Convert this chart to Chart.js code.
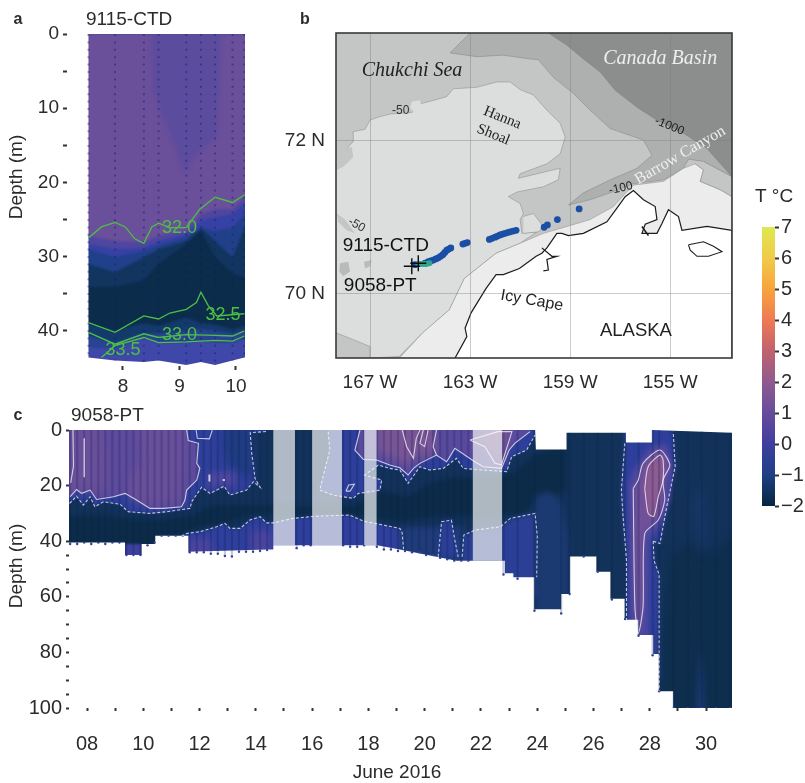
<!DOCTYPE html>
<html>
<head>
<meta charset="utf-8">
<title>9115-CTD and 9058-PT sections</title>
<script src="https://cdn.jsdelivr.net/npm/chart.js@4/dist/chart.umd.min.js"></script>
<style>
body { margin: 0; background: #fff; }
canvas { position: absolute; }
</style>
</head>
<body>
<canvas id="panelA" width="270" height="400" style="left:0;top:0"></canvas>
<canvas id="panelB" width="470" height="400" style="left:280px;top:0"></canvas>
<canvas id="panelC" width="745" height="383" style="left:0;top:400px"></canvas>
<canvas id="colourBar" width="55" height="340" style="left:750px;top:180px"></canvas>
<script>
// panel a: depth of each colour boundary at every CTD station
const aDays = [7.39, 7.86, 8.37, 8.63, 9.12, 9.38, 9.63, 9.94, 10.15];
const aBottom = [43.6, 44, 44.2, 44, 44.6, 44.2, 44.6, 44, 43.6];
const aBound9 = [42.2, 42.5, 40.9, 41.6, 41.6, 41.3, 41.6, 41.6, 41.1];
const aBound8 = [40.7, 41.6, 40.4, 40.4, 40, 39.8, 40, 40.4, 40];
const aBound7 = [39.1, 40, 38.9, 39.3, 38.2, 38.9, 39.1, 39.8, 39.3];
const aBound5 = [34.1, 34.1, 33.2, 31, 28.3, 26.5, 30.1, 32.3, 32.8];
const aBound4 = [31, 32.1, 30.1, 29, 27.9, 26.1, 27.9, 30.1, 26.1];
const aBound3 = [29, 30.1, 29.2, 28.5, 27.4, 26.1, 26.5, 26.1, 24.3];
const aBound2 = [28.3, 29, 28.8, 27.9, 27, 25.2, 24.7, 24.3, 22.9];
const aBound1 = [27.2, 27.9, 28.1, 27.2, 26.5, 24.3, 23.6, 23.6, 22];
const aLobe = [[8.51, -3], [8.54, 8.1], [8.83, 13.5], [9.1, 18.9], [9.24, 16.6], [9.66, 13.9], [9.75, -3]];
const aLeftMask = [[6.9, -3], [7.39, -3], [7.39, 50], [6.9, 50]];

// panel a: salinity contours
const sal320 = [[7.39, 27.5], [7.62, 26], [7.86, 25.4], [8.04, 26], [8.21, 27.6], [8.37, 28.2], [8.51, 26], [8.63, 25.5], [8.83, 26.1], [9.12, 26.1], [9.36, 23.6], [9.63, 22], [9.94, 22.7], [10.15, 21.7]];
const sal325 = [[7.39, 38.9], [7.86, 40.2], [8.37, 38], [8.63, 38.4], [8.83, 37.6], [9.12, 37.1], [9.3, 36.2], [9.38, 34.8], [9.51, 36.6], [9.66, 38], [10.15, 37.7]];
const sal330 = [[7.39, 40.2], [7.86, 41.8], [8.37, 40.4], [8.63, 40.9], [9.12, 40.5], [9.63, 40.6], [9.94, 40.7], [10.15, 40]];
const sal335 = [[7.62, 43.6], [7.86, 42], [8.37, 40.9], [8.63, 41.6], [9.12, 41.5], [9.63, 41.3], [9.94, 41.4], [10.15, 40.7]];

// panel b: map shapes, lon / lat
const lonTicks = [-167, -163, -159, -155];
const latTicks = [72, 70];
const mapBase = [[-168.36, 73.41], [-152.53, 73.41], [-152.53, 69.16], [-168.36, 69.16]];
const mapBand = [[-163, 73.41], [-163.8, 73.15], [-162.73, 73.1], [-161.67, 73.12], [-160.6, 73.07], [-160.27, 73.06], [-159.67, 72.83], [-158.87, 72.62], [-158.2, 72.4], [-157.4, 72.16], [-156.07, 72.01], [-155.73, 71.81], [-156.33, 71.64], [-157.4, 71.49], [-158.47, 71.32], [-159.07, 71.16], [-158.2, 71.23], [-157.4, 71.32], [-156.47, 71.44], [-155.27, 71.49], [-154.47, 71.64], [-154.27, 71.76], [-153.67, 71.73], [-153.27, 71.66], [-152.53, 71.53], [-152.53, 73.41]];
const mapBasin = [[-159.87, 73.41], [-159.13, 73.25], [-158.47, 73.07], [-157.8, 72.9], [-157.2, 72.66], [-156.33, 72.44], [-155.53, 72.27], [-154.47, 72.1], [-153.53, 71.9], [-152.53, 71.53], [-152.53, 73.41]];
const mapShoal = [[-168.36, 71.75], [-167.67, 71.99], [-167.67, 72.12], [-167.2, 72.15], [-167, 72.27], [-166.67, 72.31], [-166.2, 72.35], [-165.33, 72.37], [-164.93, 72.49], [-164.33, 72.54], [-163.93, 72.58], [-163.67, 72.68], [-162.73, 72.7], [-161.93, 72.77], [-161.4, 72.77], [-161, 72.67], [-160.47, 72.6], [-159.93, 72.4], [-159.4, 72.23], [-159.2, 72.05], [-159.4, 71.83], [-159.93, 71.7], [-161, 71.57], [-161.07, 71.51], [-159.93, 71.6], [-159.4, 71.64], [-159.47, 71.49], [-160.07, 71.4], [-161.13, 71.33], [-161.47, 71.27], [-161, 71.18], [-160.87, 71.05], [-161, 70.97], [-160.93, 70.79], [-160.33, 70.81], [-161, 70.66], [-161.96, 70.53], [-163.23, 70.2], [-163.83, 69.79], [-164.89, 69.49], [-165.83, 69.18], [-167, 69.16], [-167, 69.31], [-167.67, 69.4], [-168.36, 69.49]];
const mapCoastBand = [[-165.83, 69.16], [-164.89, 69.49], [-163.83, 69.79], [-163.23, 70.2], [-161.96, 70.53], [-161, 70.66], [-160.07, 70.79], [-159.13, 70.88], [-158.2, 70.97], [-157.27, 71.14], [-156.8, 71.31], [-156.47, 71.42], [-155.27, 71.47], [-154.47, 71.64], [-154, 71.7], [-153.67, 71.62], [-153.8, 71.47], [-153, 71.36], [-152.53, 71.27], [-152.53, 69.16]];
const mapEastPatch = [[-154, 71.7], [-153.67, 71.62], [-153.8, 71.47], [-153, 71.36], [-152.53, 71.27], [-152.53, 71.53], [-153.27, 71.66], [-153.67, 71.73]];
const mapIslet1 = [[-168.2, 70.4], [-167.87, 70.42], [-167.8, 70.29], [-168.07, 70.23], [-168.23, 70.29]];
const mapIslet2 = [[-167.24, 70.42], [-166.93, 70.44], [-167, 70.36], [-167.2, 70.33]];
const mapIslet3 = [[-168.33, 71.05], [-168, 70.97], [-167.6, 70.79], [-167.93, 70.83], [-168.27, 70.94]];
const mapIslet4 = [[-165.33, 72.51], [-165, 72.53], [-164.93, 72.42], [-165.27, 72.38], [-165.4, 72.44]];
const mapIslet5 = [[-160.87, 71.01], [-160.47, 71.05], [-160.07, 70.88], [-160.27, 70.81], [-160.87, 70.79]];
const mapIslet6 = [[-168.33, 71.88], [-167.73, 71.92], [-167.67, 71.79], [-168.07, 71.66], [-168.33, 71.62]];
const mapLand = [[-163.6, 69.16], [-163.13, 69.44], [-163.2, 69.55], [-162.96, 69.75], [-162.36, 70.07], [-161.96, 70.25], [-161.67, 70.25], [-161.03, 70.33], [-160.36, 70.49], [-160.13, 70.53], [-159.93, 70.6], [-159.53, 70.79], [-159.33, 70.79], [-159.07, 70.76], [-158.47, 70.79], [-157.53, 70.94], [-157.13, 71.12], [-156.8, 71.27], [-156.47, 71.35], [-156.07, 71.23], [-155.6, 71.14], [-155.53, 70.97], [-156, 70.91], [-156.13, 70.79], [-155.53, 70.79], [-155.33, 70.92], [-155.07, 71.1], [-154.67, 71.01], [-154.53, 70.83], [-153.53, 70.88], [-152.53, 70.83], [-152.53, 69.16]];
const mapInlet = [[-160.13, 70.6], [-159.73, 70.49], [-159.53, 70.49], [-159.93, 70.45], [-159.87, 70.31], [-160.07, 70.3]];
const mapLagoon = [[-156.13, 70.88], [-155.87, 70.76]];
const mapLake = [[-154.27, 70.64], [-153.67, 70.68], [-153.27, 70.62], [-152.93, 70.55], [-153.47, 70.49], [-153.93, 70.49], [-154.2, 70.57], [-154.27, 70.64]];
const trackBlue = [[-158.64, 71.11], [-159.51, 70.97], [-159.91, 70.9], [-160.04, 70.87], [-161.16, 70.83], [-161.28, 70.82], [-161.4, 70.81], [-161.5, 70.8], [-161.6, 70.79], [-161.7, 70.78], [-161.8, 70.77], [-161.9, 70.755], [-162, 70.74], [-162.12, 70.725], [-162.23, 70.71], [-163.11, 70.67], [-163.2, 70.66], [-163.29, 70.65], [-163.77, 70.6], [-163.85, 70.585], [-163.93, 70.57], [-164.01, 70.54], [-164.09, 70.51], [-164.18, 70.49], [-164.27, 70.47], [-164.37, 70.455], [-164.47, 70.44], [-164.57, 70.43], [-164.67, 70.42], [-164.8, 70.4], [-165.2, 70.38]];
const trackTeal = [[-165.07, 70.39], [-164.97, 70.39], [-164.87, 70.39], [-164.75, 70.39], [-164.63, 70.4]];
const stations = [[-165.07, 70.4], [-165.33, 70.36]];

// panel c: temperature areas, day of June / depth
const dayTicks = [8, 9, 10, 11, 12, 13, 14, 15, 16, 17, 18, 19, 20, 21, 22, 23, 24, 25, 26, 27, 28, 29, 30];
const depthTicks = [0, 5, 10, 15, 20, 25, 30, 35, 40, 45, 50, 55, 60, 65, 70, 75, 80, 85, 90, 95, 100];
const cTopEdge = [[7.2, 0], [23.92, 0], [23.95, 7], [25.04, 7], [25.04, 1], [27.15, 1], [27.15, 4.5], [28.08, 4.5], [28.08, 0], [30.92, 1]];
const cFloorEdge = [[30.92, 100], [28.83, 100], [28.83, 94], [28.33, 94], [28.33, 80.6], [28.12, 80.6], [28.12, 73.7], [27.59, 73.7], [27.59, 68.3], [27.11, 68.3], [27.11, 60.7], [26.6, 60.7], [26.6, 51], [26.1, 51], [26.1, 45.5], [25.16, 45.5], [25.16, 59], [24.85, 59], [24.85, 64.5], [23.89, 64.5], [23.89, 53], [23.15, 53], [23.15, 51.5], [22.85, 51.5], [22.85, 47], [21.13, 47], [19.12, 43], [18.3, 41.5], [14.62, 41.5], [14.62, 43], [14.44, 43], [11.6, 43.8], [11.6, 38], [10.42, 38], [10.42, 41], [9.94, 41], [9.94, 45], [9.35, 45], [9.35, 40.5], [7.2, 40.5]];
const cFloorMaskEnd = [[7.2, 110], [31.2, 110]];
const cTopMaskEnd = [[31.2, -4], [23.92, -4]];
const cBase = [[7.2, -4], [31.2, -4], [31.2, 110], [7.2, 110]];
const cRightDeep = [[28.7, 45], [29.4, 40], [30.2, 45], [31.2, 35], [31.2, 110], [28.45, 110], [28.45, 80], [28.6, 60]];
const cRightLobe1 = [[29.5, 25], [29.95, 20], [30, 40], [29.75, 45]];
const cRightLobe2 = [[29.62, 110], [29.8, 78], [30, 110]];
const cCore = [[7.2, 31], [8.5, 30.5], [9.5, 32], [10.5, 32.5], [11.7, 31], [12.5, 27], [13.5, 27], [14.6, 27], [15.4, 27.5], [17.4, 27.5], [18.5, 22], [19.4, 24], [20.2, 19], [21.2, 17], [22.1, 18], [23.2, 15], [23.92, 9], [25.04, 5], [25.04, 22], [24.2, 24], [23.5, 30], [22, 31], [20.5, 31], [19, 33], [17.5, 30.5], [15.5, 30.5], [14, 30], [13, 33], [12, 35], [11.4, 37.5], [10.6, 39], [10.42, 44], [9.35, 44], [7.2, 44]];
const cNotch = [[9.35, 41], [9.94, 41], [9.94, 50], [9.35, 50]];
const cDashLow = [[11.36, 38.2], [11.54, 37.2], [12.01, 36.6], [12.61, 34.8], [12.9, 33.6], [13.08, 35.4], [13.44, 35.4], [13.79, 32.4], [14.15, 31.2], [14.38, 33.4], [14.62, 33.4], [15.33, 31.8], [16.15, 31], [17.33, 30.6], [17.8, 32.7], [18.52, 34.2], [19.12, 35.4], [19.2, 37], [19.25, 42.9]];
const cLowFloor = [[19.25, 52], [11.36, 52]];
const cLowSpot1 = [[11.55, 39.5], [12.4, 38.5], [12.6, 52], [11.55, 52]];
const cLowSpot2 = [[13.8, 36], [14.55, 36], [14.55, 52], [13.8, 52]];
const cMidLow = [[19.12, 35], [21.4, 35], [21.4, 55], [19.12, 55]];
const cDome = [[20.48, 45.6], [20.6, 33], [20.95, 32.4], [21.07, 39.6], [21.19, 45.6]];
const cDashEast = [[21.33, 45.6], [21.39, 37.8], [21.8, 36], [22.7, 34.8], [23.04, 31.8], [23.92, 30], [24, 38], [23.98, 53]];
const cEastFloor = [[23.98, 60], [21.33, 60]];
const cEastLobe = [[23.92, 24], [24.4, 22], [24.85, 26], [25.1, 40], [25.1, 70], [23.98, 70]];
const cColumnDash = [[27.11, 4.8], [26.99, 21.6], [27.05, 31.2], [27.17, 46.8], [27.17, 68.3], [27.17, 90], [28.33, 90], [28.33, 52], [28.15, 47], [28.12, 40], [28.36, 40.8], [28.6, 27.6], [28.9, 13.2], [28.83, 0.6], [28.08, -4], [27.11, -4]];
const cColumnMid = [[27.23, 19.2], [27.29, 66], [27.53, 80], [27.94, 80], [28, 39.6], [28.36, 34.8], [28.71, 25.2], [28.83, 13.2], [28.59, 4.8], [28, 6], [27.41, 14.4]];
const cColumnSolid = [[27.41, 21], [27.47, 63.6], [27.59, 73.2], [27.76, 63.6], [27.82, 37.2], [28.3, 32.4], [28.53, 25.2], [28.47, 18], [28.71, 12.6], [28.36, 7.2], [27.76, 12], [27.59, 18], [27.41, 21]];
const cColumnCore = [[27.82, 21], [27.94, 30], [28.14, 31], [28.3, 24], [28.47, 18], [28.47, 10.8], [28.36, 9], [27.94, 13.2], [27.82, 21]];
const cDashWest = [[7.38, 26.4], [7.63, 23.8], [7.87, 27], [8.11, 24], [8.28, 27.6], [8.58, 25.8], [9.17, 26.7], [9.47, 29.4], [10.24, 30], [10.83, 29.4], [11.66, 28.2], [11.72, 25.8], [12.07, 20.6], [12.37, 22.8], [12.61, 21.6], [12.87, 20.2], [13.08, 23.4], [13.67, 21.6], [13.91, 18.6], [14.15, 20.6], [13.97, 17.4], [13.85, 8], [13.8, 1], [14.38, 0.5]];
const cDashWestClose = [[14.38, -4], [7.2, -4], [7.2, 26.4]];
const cWestDark = [[13, -4], [13.85, -4], [13.97, 17.4], [13.6, 17], [13, 12], [12.8, 6]];
const cWestSpot = [[12.3, 15], [13.3, 15], [13.3, 21], [12.87, 19.5], [12.3, 21]];
const cSolidWest = [[7.4, 24], [7.63, 21.4], [7.81, 22.8], [8.11, 21.6], [8.34, 25], [8.94, 24], [9.35, 22.8], [9.76, 25.2], [10.24, 28.2], [10.71, 28.2], [11.36, 27.6], [11.48, 25.2], [11.54, 21.6], [11.9, 18], [12.01, 13.8], [11.9, 12], [11.96, 4.8], [11.6, 3.8], [11.54, 0]];
const cSolidWestClose = [[11.54, -4], [7.2, -4], [7.2, 24]];
const cWestLobe1 = [[7.2, -4], [8.6, -4], [8.7, 20], [8.3, 22], [7.2, 22]];
const cWestLobe2 = [[9.7, -4], [11.5, -4], [11.36, 25], [10.2, 27], [9.5, 25], [9.5, 18], [9.9, 10]];
const cDashNorth = [[16.57, 0.6], [16.63, 7.2], [16.33, 19.2], [16.27, 21.6], [16.75, 23.4], [17.46, 24.6], [17.64, 22.8], [18.05, 22.2], [18.41, 21.6], [18.47, 18], [17.87, 16.2], [18.35, 12.6], [18.76, 13.8], [19.12, 14.4], [19.41, 19.2], [19.83, 13.2], [20.18, 14.4], [20.66, 13.8], [21.13, 10.2], [21.37, 13.8], [22.08, 14.4], [22.91, 15], [23.09, 9.6], [23.62, 7.2], [23.92, 1.8]];
const cDashNorthClose = [[23.92, -4], [16.57, -4]];
const cSolidNorth = [[17.7, 0], [17.52, 7.2], [17.82, 10.6], [18.29, 10.8], [18.76, 12.6], [19.12, 13.6], [19.41, 16.2], [19.6, 13.8], [19.83, 12], [20.42, 9], [20.78, 11.4], [21.07, 6.6], [21.78, 11.4], [22.08, 13.2], [22.73, 13.8], [23, 7.2], [23.2, 4.8], [23.74, 0.6]];
const cSolidNorthClose = [[23.74, -4], [17.7, -4]];
const cNorthLobe = [[18.3, -4], [18.3, 8], [19.1, 11], [19.4, 13], [19.7, 9], [20, 10], [20.4, 7], [20.3, -4]];
const cNorthLobe2 = [[21.61, 3.6], [22.6, -4], [23.1, -4], [22.73, 12.5], [22.5, 12], [22.14, 6]];
const cLine1 = [[7.5, 0], [7.52, 13], [7.42, 19]];
const cLine2 = [[7.9, 3], [7.9, 17]];
const cLine3 = [[19.2, 0], [19.36, 6], [19.6, 10.2], [19.7, 3], [19.83, 0]];
const cLine4 = [[19.95, 0], [19.83, 4.8], [20, 6], [20.12, 0]];
const cLine5 = [[20.42, 0], [20.3, 6], [20.42, 9]];
const cLoop1 = [[21.61, 3.6], [22.6, 0.6], [23.1, 0.6], [22.73, 12.5], [22.5, 12], [22.14, 6], [21.61, 3.6]];
const cLoop2 = [[11.88, 0], [11.92, 3], [12.35, 3.2], [12.45, 0]];
const cBlob1 = [[12.35, 16], [12.35, 18.5]];
const cBlob2 = [[12.82, 18], [12.9, 18]];
const cBlob3 = [[17.2, 22], [17.3, 19.8], [17.5, 19.5], [17.35, 22], [17.2, 22]];
const cDashColLeft = [[27.11, 4.8], [26.99, 21.6], [27.05, 31.2], [27.17, 46.8], [27.17, 68.3]];
const cDashColRight = [[28.12, 40], [28.36, 40.8], [28.6, 27.6], [28.9, 13.2], [28.83, 0.6]];
const cDashColLow = [[28.12, 40], [28.15, 47], [28.33, 52], [28.33, 94]];
const cBar1 = [[14.62, -4], [15.39, -4], [15.39, 41.5], [14.62, 41.5]];
const cBar2 = [[16, -4], [17.06, -4], [17.06, 41.5], [16, 41.5]];
const cBar3 = [[17.85, -4], [18.29, -4], [18.29, 41.5], [17.85, 41.5]];
const cBar4 = [[21.71, -4], [22.75, -4], [22.75, 47], [21.71, 47]];
const cProfileDays = [7.4, 7.65, 7.9, 8.15, 8.4, 8.65, 8.9, 9.15, 9.4, 9.65, 9.9, 10.15, 10.4, 10.65, 10.9, 11.15, 11.4, 11.65, 11.9, 12.15, 12.4, 12.65, 12.9, 13.15, 13.4, 13.65, 13.9, 14.15, 14.4, 15.45, 15.7, 15.95, 17.1, 17.35, 17.6, 17.85, 18.3, 18.55, 18.8, 19.05, 19.3, 19.55, 19.8, 20.05, 20.3, 20.55, 20.8, 21.05, 21.3, 21.55, 22.8, 23.3, 23.9, 24.85, 25.15, 25.65, 26.15, 26.65, 27.12, 27.6, 28.1, 28.33, 28.85, 29.35, 29.85, 30.35, 30.85];
const cProfileBottom = [41, 41, 40.5, 41, 40.5, 41, 40.5, 40.5, 45, 45, 45, 41.5, 40.5, 38, 38, 38, 38, 44, 44, 44, 44.5, 44.5, 45.3, 45.5, 43.8, 43.8, 43.8, 43.5, 43.2, 42.5, 41.5, 41.5, 41.5, 42, 42, 41.5, 42, 43, 43, 43.5, 43.5, 44, 44, 45, 45, 46, 46.5, 47, 47, 47, 52, 53.5, 65, 66, 59, 45.5, 51, 61, 68, 74, 81, 94, 100, 100, 100, 100, 100];
const cProfileTop = [0, 0, 0, 0, 0, 0, 0, 0, 0, 0, 0, 0, 0, 0, 0, 0, 0, 0, 0, 0, 0, 0, 0, 0, 0, 0, 0, 0, 0, 0, 0, 0, 0, 0, 0, 0, 0, 0, 0, 0, 0, 0, 0, 0, 0, 0, 0, 0, 0, 0, 0, 0, 0, 7, 1, 1, 1, 1, 4.5, 4.5, 0, 0, 0.5, 0.5, 0.5, 1, 1];

// colour bar
const barTicks = [-2, -1, 0, 1, 2, 3, 4, 5, 6, 7];
const barColours = ['#06263e', '#1e3f84', '#3f3f9e', '#664c9c', '#8f5a8f', '#c0626d', '#ee7a55', '#f9a33d', '#f0cb4a', '#dfe84f'];

const SANS = '"Liberation Sans", Arial, sans-serif';
const SERIF = '"Liberation Serif", "Times New Roman", serif';
const TEXT = '#2b2b2b';
const GREEN = '#4cc043';
const WHITE_LINE = 'rgba(255,255,255,.72)';

const xy = pts => pts.map(p => ({x: p[0], y: p[1]}));
const zip = (xs, ys) => xs.map((x, i) => [x, ys[i]]);

// list is in painting order, chart.js puts the first dataset on top so flip it
function toDatasets(list) {
    return list.map(s => ({
        data: xy(s.pts),
        soft: s.soft || 0,
        showLine: s.showLine !== false,
        tension: s.tension || 0,
        pointRadius: s.radius || 0,
        pointStyle: s.point || 'circle',
        pointBackgroundColor: s.pointColor,
        pointBorderColor: s.pointColor,
        pointBorderWidth: s.pointWidth || 0,
        borderColor: s.line || 'rgba(0,0,0,0)',
        borderWidth: s.width || 0,
        borderDash: s.dash || [],
        backgroundColor: s.color || 'rgba(0,0,0,0)',
        fill: s.fill || (s.color ? 'shape' : false),
        spanGaps: false
    })).reverse();
}

// plain text marks, in data units unless px is set
const notesPlugin = {
    id: 'notes',
    afterDraw(chart, args, opts) {
        const ctx = chart.ctx;
        if (opts.frame) {
            const a = chart.chartArea;
            ctx.save();
            ctx.strokeStyle = '#3a3a3a';
            ctx.lineWidth = 1.6;
            ctx.strokeRect(a.left, a.top, a.right - a.left, a.bottom - a.top);
            ctx.restore();
        }
        (opts.items || []).forEach(n => {
            const x = n.px ? n.x : chart.scales.x.getPixelForValue(n.x);
            const y = n.px ? n.y : chart.scales.y.getPixelForValue(n.y);
            ctx.save();
            ctx.translate(x, y);
            ctx.rotate((n.rot || 0) * Math.PI / 180);
            ctx.font = n.font;
            ctx.fillStyle = n.color || TEXT;
            ctx.textAlign = n.align || 'center';
            ctx.textBaseline = 'middle';
            ctx.fillText(n.t, 0, 0);
            ctx.restore();
        });
    }
};

// filler paints a dataset before this plugin's hook for it runs,
// so the blur for the next fill is set when the previous dataset ends
function softFilter(chart, index) {
    const ds = chart.data.datasets[index];
    return ds && ds.soft ? 'blur(' + ds.soft + 'px)' : 'none';
}
const softPlugin = {
    id: 'softEdges',
    beforeDatasetsDraw(chart) {
        chart.ctx.filter = softFilter(chart, chart.data.datasets.length - 1);
    },
    beforeDatasetDraw(chart) {
        chart.ctx.filter = 'none';
    },
    afterDatasetDraw(chart, args) {
        chart.ctx.filter = softFilter(chart, args.index - 1);
    },
    afterDatasetsDraw(chart) {
        chart.ctx.filter = 'none';
    }
};
Chart.register(notesPlugin, softPlugin);

function axisTicks(list) {
    return axis => { axis.ticks = list.map(v => ({value: v})); };
}

function fixedSize(key, size) {
    return axis => { axis[key] = size; };
}

function baseOptions(extra) {
    return Object.assign({
        responsive: false,
        animation: false,
        events: [],
        plugins: {legend: {display: false}, tooltip: {enabled: false}, notes: {}}
    }, extra);
}

function profileLines(days, tops, bottoms) {
    const pts = [];
    days.forEach((d, i) => {
        pts.push([d, tops[i]], [d, bottoms[i]], [d, null]);
    });
    return pts;
}

// ---- panel a
const aStripes = profileLines(aDays, aDays.map(() => 0), aBottom);
// bands run past both edges, the left mask and the axis limit cut them clean
function aBand(ys) {
    return [[7.2, ys[0]]].concat(zip(aDays, ys), [[10.4, ys[ys.length - 1]]]);
}
const aShapes = [
    {pts: aBand(aBottom), color: '#3f48a8', fill: 'end', soft: .5},
    {pts: aBand(aBound9), color: '#284392', fill: 'end', soft: .8},
    {pts: aBand(aBound8), color: '#143a6c', fill: 'end', soft: .8},
    {pts: aBand(aBound7), color: '#0b2c4b', fill: 'end', soft: .8},
    {pts: aBand(aBound5), color: '#12355f', fill: 'end', soft: .8},
    {pts: aBand(aBound4), color: '#21408a', fill: 'end', soft: .8},
    {pts: aBand(aBound3), color: '#3541a4', fill: 'end', soft: .8},
    {pts: aBand(aBound2), color: '#4f46a0', fill: 'end', soft: .8},
    {pts: aBand(aBound1), color: '#6a4f9b', fill: 'end', soft: .8},
    {pts: aLobe, color: '#5c4c9d', soft: 2},
    {pts: aLeftMask, color: '#ffffff'},
    {pts: aStripes, line: 'rgba(20,25,110,.42)', width: 2, dash: [2, 5.4]},
    {pts: sal320, line: GREEN, width: 1.3},
    {pts: sal325, line: GREEN, width: 1.3},
    {pts: sal330, line: GREEN, width: 1.3},
    {pts: sal335, line: GREEN, width: 1.3}
];

new Chart(document.getElementById('panelA'), {
    type: 'scatter',
    data: {datasets: toDatasets(aShapes)},
    options: baseOptions({
        layout: {padding: {top: 34, right: 25}},
        scales: {
            x: {
                min: 7.01, max: 10.16,
                afterBuildTicks: axisTicks([8, 9, 10]),
                afterFit: fixedSize('height', 34),
                border: {display: false},
                grid: {drawOnChartArea: false, tickLength: 4, tickWidth: 2, tickColor: '#333'},
                ticks: {autoSkip: false, maxRotation: 0, padding: 5, color: TEXT, font: {family: SANS, size: 19}}
            },
            y: {
                reverse: true, min: 0, max: 44.74,
                afterBuildTicks: axisTicks([0, 5, 10, 15, 20, 25, 30, 35, 40]),
                afterFit: fixedSize('width', 67),
                border: {display: false},
                grid: {drawOnChartArea: false, tickLength: 4, tickWidth: 2, tickColor: '#333'},
                ticks: {autoSkip: false, padding: 4, color: TEXT, font: {family: SANS, size: 19},
                    callback: v => v % 10 == 0 ? v : ''}
            }
        },
        plugins: {legend: {display: false}, tooltip: {enabled: false}, notes: {items: [
            {t: 'a', x: 18, y: 20, px: true, font: 'bold 16px ' + SANS},
            {t: '9115-CTD', x: 86, y: 20, px: true, align: 'left', font: '19px ' + SANS},
            {t: 'Depth (m)', x: 17, y: 177, px: true, rot: -90, font: '19px ' + SANS},
            {t: '32.0', x: 9.0, y: 26.2, color: GREEN, font: '18px ' + SANS},
            {t: '32.5', x: 9.77, y: 37.9, color: GREEN, font: '18px ' + SANS},
            {t: '33.0', x: 9.0, y: 40.6, color: GREEN, font: '18px ' + SANS},
            {t: '33.5', x: 8.0, y: 42.6, color: GREEN, font: '18px ' + SANS}
        ]}}
    })
});

// ---- panel b
const edge = 'rgba(120,120,120,.7)';
const mapShapes = [
    {pts: mapBase, color: '#c4c5c5'},
    {pts: mapBand, color: '#aeafaf', line: edge, width: .6},
    {pts: mapBasin, color: '#8c8d8d', line: edge, width: .6},
    {pts: mapShoal, color: '#dcdddd', line: edge, width: .6},
    {pts: mapCoastBand, color: '#ececec', line: edge, width: .6},
    {pts: mapEastPatch, color: '#c4c5c5', line: edge, width: .6},
    {pts: mapIslet1, color: '#b9baba'},
    {pts: mapIslet2, color: '#b9baba'},
    {pts: mapIslet3, color: '#c4c5c5'},
    {pts: mapIslet4, color: '#dcdddd'},
    {pts: mapIslet5, color: '#dcdddd', line: edge, width: .6},
    {pts: mapIslet6, color: '#c4c5c5'},
    {pts: mapLand, color: '#ffffff', line: '#1c1c1c', width: 1.2},
    {pts: mapInlet, line: '#1c1c1c', width: 1.2},
    {pts: mapLagoon, line: '#1c1c1c', width: 1.6},
    {pts: mapLake, line: '#1c1c1c', width: 1.1},
    {pts: trackBlue, radius: 3.4, pointColor: '#1a4fa5', showLine: false},
    {pts: trackTeal, radius: 3, pointColor: '#31a592', showLine: false},
    {pts: stations, radius: 8, point: 'cross', pointColor: '#0d0d0d', pointWidth: 1.4, showLine: false}
];

new Chart(document.getElementById('panelB'), {
    type: 'scatter',
    data: {datasets: toDatasets(mapShapes)},
    options: baseOptions({
        layout: {padding: {top: 33, right: 18}},
        scales: {
            x: {
                min: -168.36, max: -152.53,
                afterBuildTicks: axisTicks(lonTicks),
                afterFit: fixedSize('height', 42),
                border: {display: false},
                grid: {color: 'rgba(125,125,125,.4)', drawTicks: false, z: 1},
                ticks: {autoSkip: false, maxRotation: 0, padding: 13, color: TEXT, font: {family: SANS, size: 19},
                    callback: v => Math.abs(v) + ' W'}
            },
            y: {
                min: 69.16, max: 73.41,
                afterBuildTicks: axisTicks(latTicks),
                afterFit: fixedSize('width', 56),
                border: {display: false},
                grid: {color: 'rgba(125,125,125,.4)', drawTicks: false, z: 1},
                ticks: {autoSkip: false, padding: 11, color: TEXT, font: {family: SANS, size: 19},
                    callback: v => v + ' N'}
            }
        },
        plugins: {legend: {display: false}, tooltip: {enabled: false}, notes: {frame: true, items: [
            {t: 'b', x: 25, y: 20, px: true, font: 'bold 16px ' + SANS},
            {t: 'Chukchi Sea', x: -165.32, y: 72.91, font: 'italic 20px ' + SERIF, color: '#222'},
            {t: 'Canada Basin', x: -155.4, y: 73.07, font: 'italic 20px ' + SERIF, color: '#eeeeee'},
            {t: 'Hanna', x: -161.71, y: 72.3, rot: 22, font: '15px ' + SERIF, color: '#222'},
            {t: 'Shoal', x: -162.07, y: 72.08, rot: 22, font: '15px ' + SERIF, color: '#222'},
            {t: 'Barrow Canyon', x: -154.6, y: 71.81, rot: -30, font: '16px ' + SERIF, color: '#eeeeee'},
            {t: 'Icy Cape', x: -160.53, y: 69.91, rot: 10, font: '16px ' + SANS, color: '#222'},
            {t: 'ALASKA', x: -156.37, y: 69.52, font: '18.5px ' + SANS, color: '#222'},
            {t: '9115-CTD', x: -166.37, y: 70.63, font: '19px ' + SANS, color: '#111'},
            {t: '9058-PT', x: -166.59, y: 70.1, font: '19px ' + SANS, color: '#111'},
            {t: '-50', x: -165.77, y: 72.39, font: '12px ' + SANS, color: '#333'},
            {t: '-50', x: -167.53, y: 70.9, rot: 30, font: '12px ' + SANS, color: '#333'},
            {t: '-1000', x: -155.03, y: 72.19, rot: 22, font: '12px ' + SANS, color: '#222'},
            {t: '-100', x: -156.97, y: 71.38, rot: -12, font: '12px ' + SANS, color: '#222'}
        ]}}
    })
});

// ---- panel c
const BAR_WHITE = 'rgba(236,239,240,.72)';
const cShapes = [
    {pts: cBase, color: '#12325a'},
    {pts: cRightDeep, color: '#0e2e4d', soft: 5},
    {pts: cRightLobe1, color: '#173765', soft: 4},
    {pts: cRightLobe2, color: '#1d3c7b', soft: 3},
    {pts: cCore, color: '#0b2b48', soft: 2.5},
    {pts: cNotch, color: '#3f3fa0', soft: 1},
    {pts: cDashLow.concat(cLowFloor), color: '#2f3f9d', soft: 1.5},
    {pts: cLowSpot1, color: '#4a449f', soft: 3},
    {pts: cLowSpot2, color: '#4a449f', soft: 3},
    {pts: cMidLow, color: '#1f3b7a', soft: 2.5},
    {pts: cDome, color: '#2c3f98', soft: 2},
    {pts: cDashEast.concat(cEastFloor), color: '#2b3f96', soft: 2},
    {pts: cEastLobe, color: '#1c3a72', soft: 3},
    {pts: cColumnDash, color: '#2d3f9b', soft: 2},
    {pts: cColumnMid, color: '#4f48a0', soft: 2.5},
    {pts: cColumnSolid, color: '#6f5099', soft: 2, tension: .25},
    {pts: cColumnCore, color: '#8e5b92', soft: 2, tension: .25},
    {pts: cDashWest.concat(cDashWestClose), color: '#2f3f9c', soft: 1.2},
    {pts: cWestDark, color: '#1f3c82', soft: 4},
    {pts: cWestSpot, color: '#4c47a0', soft: 3},
    {pts: cSolidWest.concat(cSolidWestClose), color: '#5e4b9d', soft: 1.2},
    {pts: cWestLobe1, color: '#6a4f9a', soft: 4},
    {pts: cWestLobe2, color: '#6a4f9b', soft: 4},
    {pts: cDashNorth.concat(cDashNorthClose), color: '#2d3f9b', soft: 1.2},
    {pts: cSolidNorth.concat(cSolidNorthClose), color: '#5a4a9e', soft: 1.2},
    {pts: cNorthLobe, color: '#7a5596', soft: 4},
    {pts: cNorthLobe2, color: '#7a5596', soft: 4},
    // white masks give the section its stepped floor and top notches
    {pts: cFloorEdge.concat(cFloorMaskEnd), color: '#ffffff'},
    {pts: cTopEdge.slice(1).concat(cTopMaskEnd), color: '#ffffff'},
    {pts: profileLines(cProfileDays, cProfileTop, cProfileBottom), line: 'rgba(12,32,80,.24)', width: 2.2},
    {pts: zip(cProfileDays, cProfileBottom), radius: 1.2, pointColor: '#34409c', showLine: false},
    {pts: cBar1, color: BAR_WHITE},
    {pts: cBar2, color: BAR_WHITE},
    {pts: cBar3, color: BAR_WHITE},
    {pts: cBar4, color: BAR_WHITE},
    {pts: cSolidWest, line: WHITE_LINE, width: 1.1},
    {pts: cLine1, line: WHITE_LINE, width: 1.1},
    {pts: cLine2, line: WHITE_LINE, width: 1.4},
    {pts: cLoop2, line: WHITE_LINE, width: 1.1},
    {pts: cBlob1, line: WHITE_LINE, width: 2},
    {pts: cBlob2, line: WHITE_LINE, width: 2},
    {pts: cBlob3, line: WHITE_LINE, width: 1.1},
    {pts: cSolidNorth, line: WHITE_LINE, width: 1.1},
    {pts: cLine3, line: WHITE_LINE, width: 1.1},
    {pts: cLine4, line: WHITE_LINE, width: 1.1},
    {pts: cLine5, line: WHITE_LINE, width: 1.1},
    {pts: cLoop1, line: WHITE_LINE, width: 1.1},
    {pts: cColumnSolid, line: WHITE_LINE, width: 1.1, tension: .25},
    {pts: cColumnCore, line: WHITE_LINE, width: 1.1, tension: .25},
    {pts: cDashWest, line: WHITE_LINE, width: 1.1, dash: [3, 2]},
    {pts: cDashLow, line: WHITE_LINE, width: 1.1, dash: [3, 2]},
    {pts: cDashNorth, line: WHITE_LINE, width: 1.1, dash: [3, 2]},
    {pts: cDome, line: WHITE_LINE, width: 1.1, dash: [3, 2]},
    {pts: cDashEast, line: WHITE_LINE, width: 1.1, dash: [3, 2]},
    {pts: cDashColLeft, line: WHITE_LINE, width: 1.1, dash: [3, 2]},
    {pts: cDashColRight, line: WHITE_LINE, width: 1.1, dash: [3, 2]},
    {pts: cDashColLow, line: WHITE_LINE, width: 1.1, dash: [3, 2]}
];

new Chart(document.getElementById('panelC'), {
    type: 'scatter',
    data: {datasets: toDatasets(cShapes)},
    options: baseOptions({
        layout: {padding: {top: 30, right: 13}},
        scales: {
            x: {
                min: 7.36, max: 30.92,
                afterBuildTicks: axisTicks(dayTicks),
                afterFit: fixedSize('height', 75),
                border: {display: false},
                grid: {drawOnChartArea: false, tickLength: 3, tickWidth: 2, tickColor: '#333'},
                ticks: {autoSkip: false, maxRotation: 0, padding: 21, color: TEXT, font: {family: SANS, size: 20},
                    callback: v => v % 2 == 0 ? String(v).padStart(2, '0') : ''}
            },
            y: {
                reverse: true, min: 0, max: 100,
                afterBuildTicks: axisTicks(depthTicks),
                afterFit: fixedSize('width', 69),
                border: {display: false},
                grid: {drawOnChartArea: false, tickLength: 3, tickWidth: 2,
                    tickColor: ctx => (ctx.tick && ctx.tick.value < 40 && ctx.tick.value % 20 != 0) ? 'rgba(0,0,0,0)' : '#333'},
                ticks: {autoSkip: false, padding: 4, color: TEXT, font: {family: SANS, size: 20},
                    callback: v => v % 20 == 0 ? v : ''}
            }
        },
        plugins: {legend: {display: false}, tooltip: {enabled: false}, notes: {items: [
            {t: 'c', x: 18, y: 16, px: true, font: 'bold 16px ' + SANS},
            {t: '9058-PT', x: 71, y: 16, px: true, align: 'left', font: '19px ' + SANS},
            {t: 'Depth (m)', x: 17, y: 166, px: true, rot: -90, font: '19px ' + SANS},
            {t: 'June 2016', x: 397, y: 373, px: true, font: '19px ' + SANS}
        ]}}
    })
});

// ---- colour bar
new Chart(document.getElementById('colourBar'), {
    type: 'bar',
    data: {
        labels: ['T'],
        datasets: [{
            data: [[barTicks[0], barTicks[barTicks.length - 1]]],
            barPercentage: 1,
            categoryPercentage: 1,
            backgroundColor: ctx => {
                const area = ctx.chart.chartArea;
                if (!area) return barColours[0];
                const g = ctx.chart.ctx.createLinearGradient(0, area.bottom, 0, area.top);
                barColours.forEach((c, i) => g.addColorStop(i / (barColours.length - 1), c));
                return g;
            }
        }]
    },
    options: baseOptions({
        layout: {padding: {top: 47, left: 12, bottom: 14}},
        scales: {
            x: {display: false},
            y: {
                position: 'right', min: -2, max: 7,
                afterBuildTicks: axisTicks(barTicks),
                afterFit: fixedSize('width', 30),
                border: {display: false},
                grid: {drawOnChartArea: false, tickLength: 4, tickWidth: 2, tickColor: '#333'},
                ticks: {autoSkip: false, padding: 2, color: TEXT, font: {family: SANS, size: 20},
                    callback: v => String(v).replace('-', '\u2212')}
            }
        },
        plugins: {legend: {display: false}, tooltip: {enabled: false}, notes: {items: [
            {t: 'T °C', x: 24, y: 17, px: true, font: '19px ' + SANS}
        ]}}
    })
});
</script>
</body>
</html>
